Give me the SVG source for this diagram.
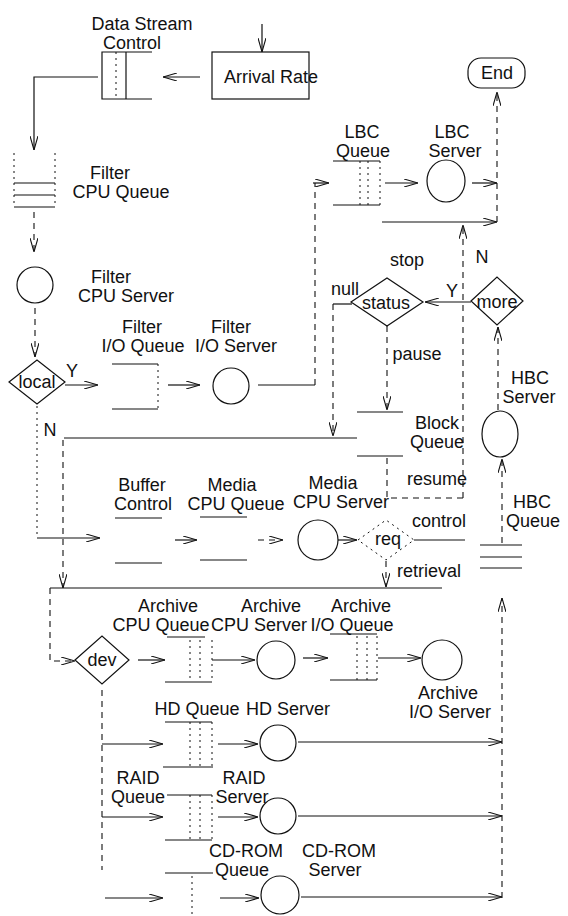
<svg xmlns="http://www.w3.org/2000/svg" width="568" height="916" viewBox="0 0 568 916">
<defs>
<style>
text{font-family:"Liberation Sans",Arial,sans-serif;font-size:18px;fill:#111;text-anchor:middle}
.s{fill:none;stroke:#111;stroke-width:1.2}
.d{fill:none;stroke:#111;stroke-width:1.1;stroke-dasharray:6 5}
.f{fill:none;stroke:#111;stroke-width:1;stroke-dasharray:2 4}
.a{marker-end:url(#ah)}
</style>
<marker id="ah" viewBox="0 0 14 8" refX="14" refY="4" markerWidth="14" markerHeight="8" markerUnits="userSpaceOnUse" orient="auto">
<path d="M0,0 L14,4 L0,8" fill="none" stroke="#111" stroke-width="1.1"/>
</marker>
</defs>
<rect width="568" height="916" fill="#fff"/>

<g id="data-stream-control">
<path class="s" d="M152,52 H102 V99 H152"/>
<line class="s" x1="126" y1="52" x2="126" y2="99"/>
<line class="f" x1="116" y1="52" x2="116" y2="99"/>
<text x="142" y="30">Data Stream</text>
<text x="132" y="49">Control</text>
</g>

<g id="arrival-rate">
<rect class="s" x="212" y="52" width="97" height="47"/>
<text x="271" y="83">Arrival Rate</text>
</g>

<g id="end">
<rect class="s" x="468" y="58" width="57" height="30" rx="13"/>
<text x="497" y="79">End</text>
</g>

<g id="filter-cpu-queue">
<path class="f" d="M14,153 V207 M55,153 V207"/>
<path class="s" d="M14,183 H55 M14,195 H55 M14,207 H55"/>
<text x="110" y="179">Filter</text>
<text x="121" y="198">CPU Queue</text>
</g>

<g id="filter-cpu-server">
<circle class="s" cx="35" cy="285" r="18"/>
<text x="111" y="283">Filter</text>
<text x="126" y="302">CPU Server</text>
</g>

<g id="local">
<polygon class="s" points="9,382 37,360 65,382 37,404"/>
<text x="37" y="388">local</text>
<text x="72" y="377">Y</text>
<text x="50" y="436">N</text>
</g>

<g id="filter-io-queue">
<path class="s" d="M112,364 H158 M112,409 H158"/>
<line class="f" x1="158" y1="364" x2="158" y2="409"/>
<text x="142" y="333">Filter</text>
<text x="143" y="352">I/O Queue</text>
</g>

<g id="filter-io-server">
<circle class="s" cx="231" cy="386" r="18"/>
<text x="231" y="333">Filter</text>
<text x="236" y="352">I/O Server</text>
</g>

<g id="lbc-queue">
<path class="s" d="M333,161 H380 M333,205 H380"/>
<path class="f" d="M360,161 V205 M368,161 V205 M380,161 V205"/>
<text x="362" y="138">LBC</text>
<text x="363" y="157">Queue</text>
</g>

<g id="lbc-server">
<ellipse class="s" cx="446" cy="181" rx="19" ry="21"/>
<text x="452" y="138">LBC</text>
<text x="455" y="157">Server</text>
</g>

<g id="status">
<polygon class="s" points="351,302 387,278 423,302 387,326"/>
<text x="386" y="309">status</text>
<text x="407" y="266">stop</text>
<text x="345" y="295">null</text>
<text x="417" y="360">pause</text>
</g>

<g id="more">
<polygon class="s" points="471,301 497,277 523,301 497,325"/>
<text x="497" y="308">more</text>
<text x="452" y="297">Y</text>
<text x="482" y="263">N</text>
</g>

<g id="block-queue">
<path class="s" d="M357,412 H403 M357,456 H403"/>
<text x="437" y="429">Block</text>
<text x="437" y="448">Queue</text>
</g>

<g id="hbc-server">
<ellipse class="s" cx="500" cy="434" rx="18" ry="23"/>
<text x="530" y="384">HBC</text>
<text x="529" y="403">Server</text>
</g>

<g id="buffer-control">
<path class="s" d="M115,518 H162 M115,563 H162"/>
<text x="142" y="491">Buffer</text>
<text x="143" y="510">Control</text>
</g>

<g id="media-cpu-queue">
<path class="s" d="M200,517 H247 M200,560 H247"/>
<text x="232" y="491">Media</text>
<text x="236" y="510">CPU Queue</text>
</g>

<g id="media-cpu-server">
<circle class="s" cx="318" cy="540" r="20"/>
<text x="333" y="489">Media</text>
<text x="341" y="508">CPU Server</text>
</g>

<g id="req">
<polygon class="f" points="358,540 386,520 414,540 386,560"/>
<text x="388" y="545">req</text>
<text x="437" y="485">resume</text>
<text x="439" y="527">control</text>
<text x="429" y="577">retrieval</text>
</g>

<g id="hbc-queue">
<path class="s" d="M480,545 H522 M480,557 H522 M480,568 H522"/>
<text x="532" y="508">HBC</text>
<text x="533" y="527">Queue</text>
</g>

<g id="dev">
<polygon class="s" points="75,660 102,636 129,660 102,684"/>
<text x="102" y="666">dev</text>
</g>

<g id="archive-cpu-queue">
<path class="s" d="M167,637 H205 M165,682 H212"/>
<path class="f" d="M190,640 V682 M200,640 V682 M212,640 V682"/>
<text x="168" y="612">Archive</text>
<text x="161" y="631">CPU Queue</text>
</g>

<g id="archive-cpu-server">
<circle class="s" cx="276" cy="660" r="19"/>
<text x="271" y="612">Archive</text>
<text x="259" y="631">CPU Server</text>
</g>

<g id="archive-io-queue">
<path class="s" d="M330,634 H377 M330,680 H377"/>
<path class="f" d="M357,636 V680 M367,636 V680 M377,636 V680"/>
<text x="361" y="612">Archive</text>
<text x="352" y="631">I/O Queue</text>
</g>

<g id="archive-io-server">
<circle class="s" cx="442" cy="660" r="20"/>
<text x="448" y="699">Archive</text>
<text x="450" y="718">I/O Server</text>
</g>

<g id="hd-queue">
<path class="s" d="M165,722 H212 M163,767 H213"/>
<path class="f" d="M190,722 V767 M200,722 V767 M212,722 V767"/>
<text x="197" y="715">HD Queue</text>
</g>

<g id="hd-server">
<circle class="s" cx="278" cy="743" r="18"/>
<text x="288" y="715">HD Server</text>
</g>

<g id="raid-queue">
<path class="s" d="M167,795 H212 M165,840 H212"/>
<path class="f" d="M190,795 V840 M200,795 V840 M212,795 V840"/>
<text x="138" y="784">RAID</text>
<text x="138" y="803">Queue</text>
</g>

<g id="raid-server">
<circle class="s" cx="278" cy="816" r="18"/>
<text x="244" y="784">RAID</text>
<text x="242" y="803">Server</text>
</g>

<g id="cdrom-queue">
<path class="s" d="M165,873 H213"/>
<path class="f" d="M192,876 V916"/>
<text x="246" y="857">CD-ROM</text>
<text x="242" y="876">Queue</text>
</g>

<g id="cdrom-server">
<circle class="s" cx="280" cy="895" r="19"/>
<text x="339" y="857">CD-ROM</text>
<text x="335" y="876">Server</text>
</g>

<g id="connectors">
<line class="s a" x1="262" y1="24" x2="262" y2="52"/>
<line class="s a" x1="200" y1="77" x2="163" y2="77"/>
<polyline class="s a" points="98,77 34,77 34,150"/>
<line class="d a" x1="34" y1="212" x2="34" y2="252"/>
<line class="d a" x1="35" y1="308" x2="35" y2="357"/>
<line class="s a" x1="65" y1="385" x2="98" y2="385"/>
<line class="s a" x1="168" y1="385" x2="200" y2="385"/>
<line class="s" x1="258" y1="385" x2="315" y2="385"/>
<line class="d" x1="315" y1="385" x2="315" y2="183"/>
<line class="s a" x1="313" y1="183" x2="329" y2="183"/>
<line class="s a" x1="385" y1="183" x2="418" y2="183"/>
<line class="s a" x1="472" y1="183" x2="497" y2="183"/>
<line class="d a" x1="497" y1="222" x2="497" y2="92"/>
<line class="s a" x1="382" y1="222" x2="497" y2="222"/>
<line class="d a" x1="463" y1="498" x2="463" y2="225"/>
<line class="s a" x1="471" y1="302" x2="425" y2="302"/>
<line class="d a" x1="498" y1="410" x2="498" y2="327"/>
<line class="d a" x1="502" y1="543" x2="502" y2="459"/>
<line class="d a" x1="502" y1="898" x2="502" y2="598"/>
<polyline class="s" points="352,304 333,304"/>
<line class="d a" x1="333" y1="304" x2="333" y2="436"/>
<line class="d a" x1="387" y1="326" x2="387" y2="410"/>
<line class="s" x1="64" y1="438" x2="357" y2="438"/>
<polyline class="d" points="387,458 387,498 465,498"/>
<line class="s" x1="414" y1="540" x2="465" y2="540"/>
<line class="f" x1="37" y1="406" x2="37" y2="538"/>
<line class="d a" x1="63" y1="440" x2="63" y2="588"/>
<line class="s a" x1="37" y1="538" x2="100" y2="538"/>
<line class="s a" x1="175" y1="540" x2="197" y2="540"/>
<line class="d a" x1="258" y1="540" x2="283" y2="540"/>
<line class="s a" x1="338" y1="540" x2="357" y2="540"/>
<line class="d a" x1="386" y1="561" x2="386" y2="587"/>
<polyline class="s" points="442,588 50,588"/>
<polyline class="d a" points="50,588 50,661 75,661"/>
<line class="s a" x1="138" y1="660" x2="165" y2="660"/>
<line class="s a" x1="212" y1="660" x2="255" y2="660"/>
<line class="s a" x1="303" y1="658" x2="328" y2="658"/>
<line class="s a" x1="378" y1="658" x2="421" y2="658"/>
<line class="d" x1="102" y1="690" x2="102" y2="870"/>
<line class="s a" x1="102" y1="744" x2="163" y2="744"/>
<line class="s a" x1="102" y1="817" x2="163" y2="817"/>
<line class="s a" x1="105" y1="898" x2="163" y2="898"/>
<line class="s a" x1="218" y1="744" x2="258" y2="744"/>
<line class="s a" x1="218" y1="817" x2="258" y2="817"/>
<line class="s a" x1="220" y1="898" x2="259" y2="898"/>
<line class="s a" x1="298" y1="742" x2="502" y2="742"/>
<line class="s a" x1="298" y1="816" x2="502" y2="816"/>
<line class="s a" x1="301" y1="897" x2="502" y2="897"/>
</g>
</svg>
